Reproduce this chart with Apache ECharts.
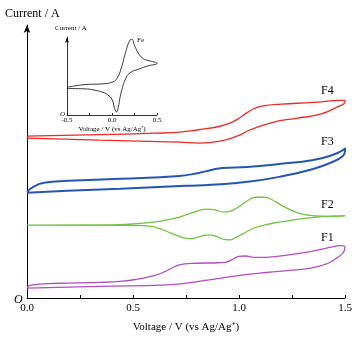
<!DOCTYPE html>
<html>
<head>
<meta charset="utf-8">
<script src="https://cdn.jsdelivr.net/npm/echarts@6/dist/echarts.min.js"></script>
<style>
  html, body { margin: 0; padding: 0; background: #fff; }
  #chart { width: 363px; height: 338px; }
</style>
</head>
<body>
<div id="chart"></div>
<script>
// main panel: voltage (V vs Ag/Ag+) and current (arbitrary, stacked offsets)
const xTicks = [0.0, 0.5, 1.0, 1.5];

const f4Forward = [[0, 161], [0.34, 162.5], [0.6, 164], [0.72, 165], [0.81, 167.5], [0.91, 171], [0.96, 174.5], [1.0, 179], [1.04, 185], [1.08, 189.5], [1.13, 192], [1.2, 193.3], [1.35, 195], [1.48, 197], [1.5, 197]];
const f4Reverse = [[1.5, 196], [1.46, 190], [1.38, 183], [1.27, 179], [1.16, 175], [1.06, 168], [0.99, 161], [0.91, 156], [0.81, 154], [0.72, 155], [0.34, 157], [0, 159]];

const f3Forward = [[0, 105], [0.03, 110], [0.08, 114], [0.19, 116], [0.44, 118], [0.72, 121], [0.81, 124], [0.87, 127], [0.92, 129], [1.04, 130], [1.19, 133], [1.35, 137], [1.44, 142], [1.49, 147], [1.5, 149]];
const f3Reverse = [[1.5, 146], [1.49, 141], [1.44, 135], [1.35, 128], [1.19, 120], [1.04, 115], [0.87, 112], [0.75, 111], [0.44, 108], [0.19, 106], [0, 104]];

const f2Forward = [[0, 71.5], [0.3, 71.7], [0.44, 72], [0.55, 73.5], [0.63, 75.5], [0.7, 78.5], [0.76, 82.5], [0.81, 86], [0.85, 87.5], [0.89, 86.5], [0.93, 84.5], [0.96, 85.5], [1.0, 90], [1.04, 96], [1.08, 99.5], [1.12, 99.5], [1.16, 96.5], [1.2, 91.5], [1.25, 86], [1.3, 82.5], [1.36, 80.8], [1.42, 80.3], [1.49, 80.5], [1.5, 81]];
const f2Reverse = [[1.5, 81], [1.45, 80.6], [1.38, 79.7], [1.3, 78], [1.23, 75.7], [1.17, 73.8], [1.12, 71.5], [1.07, 68.5], [1.03, 64], [0.99, 59.5], [0.955, 56.5], [0.93, 57], [0.9, 59.5], [0.86, 61.5], [0.83, 60.8], [0.8, 59], [0.77, 57.8], [0.74, 58.5], [0.7, 61.5], [0.66, 65], [0.61, 69], [0.55, 71], [0.44, 71.3], [0, 71.5]];

const f1Forward = [[0, 9], [0.02, 11], [0.1, 12.5], [0.19, 13], [0.34, 13.7], [0.45, 15], [0.52, 17], [0.6, 20.5], [0.65, 24.5], [0.69, 29], [0.73, 31.8], [0.8, 33], [0.9, 33.5], [0.94, 34.2], [0.97, 37], [1.0, 40], [1.03, 40.3], [1.07, 38.9], [1.13, 39], [1.21, 40.7], [1.3, 43.5], [1.37, 46.3], [1.44, 49.5], [1.48, 50.7], [1.5, 49]];
const f1Reverse = [[1.5, 49], [1.46, 38], [1.37, 29.7], [1.25, 26], [1.13, 23.7], [0.97, 19.7], [0.81, 14.7], [0.66, 11.3], [0.34, 9.7], [0, 8]];

// inset: ferrocene reference
const insetTicks = [-0.5, 0.0, 0.5];
const feForward = [[-0.5, 35.5], [-0.3, 39], [-0.1, 40], [0.0, 42], [0.05, 46], [0.1, 59], [0.15, 80], [0.2, 96], [0.22, 97], [0.25, 89], [0.3, 78], [0.35, 72], [0.4, 70], [0.5, 66]];
const feReverse = [[0.5, 66], [0.4, 63], [0.3, 59], [0.2, 54], [0.15, 46], [0.1, 28], [0.07, 10.5], [0.05, 4], [0.03, 8], [0.0, 20], [-0.05, 26], [-0.1, 29], [-0.2, 32], [-0.3, 33.5], [-0.5, 34]];

const serif = "Liberation Serif";

function loop(name, fwd, rev, color, width, axis) {
    return {
        name: name,
        type: "line",
        xAxisIndex: axis,
        yAxisIndex: axis,
        data: fwd.concat(rev),
        smooth: 0.5,
        showSymbol: false,
        silent: true,
        lineStyle: { color: color, width: width },
        z: 3,
    };
}

const chart = echarts.init(document.getElementById("chart"));

chart.setOption({
    animation: false,
    grid: [
        { left: 27, right: 18, top: 25, bottom: 38 },
        { left: 67, right: 206, top: 37, bottom: 223 },
    ],
    xAxis: [
        {
            type: "value",
            gridIndex: 0,
            min: 0,
            max: 1.5,
            interval: 0.25,
            axisLine: { onZero: false, lineStyle: { color: "#000", width: 1 } },
            axisTick: { inside: true, length: 3, lineStyle: { color: "#000" } },
            splitLine: { show: false },
            axisLabel: {
                color: "#000",
                fontFamily: serif,
                fontSize: 11,
                margin: 5,
                formatter: (v) => (xTicks.includes(v) ? v.toFixed(1) : ""),
            },
            name: "Voltage / V (vs Ag/Ag\u207A)",
            nameLocation: "middle",
            nameGap: 24,
            nameTextStyle: { color: "#000", fontFamily: serif, fontSize: 11 },
        },
        {
            type: "value",
            gridIndex: 1,
            min: -0.5,
            max: 0.5,
            interval: 0.25,
            axisLine: { onZero: false, lineStyle: { color: "#000", width: 0.8 } },
            axisTick: { inside: true, length: 2, lineStyle: { color: "#000", width: 0.8 } },
            splitLine: { show: false },
            axisLabel: {
                color: "#000",
                fontFamily: serif,
                fontSize: 7,
                margin: 2,
                formatter: (v) => (insetTicks.includes(v) ? v.toFixed(1) : ""),
            },
            name: "Voltage / V (vs Ag/Ag\u207A)",
            nameLocation: "middle",
            nameGap: 11,
            nameTextStyle: { color: "#000", fontFamily: serif, fontSize: 7 },
        },
    ],
    yAxis: [
        {
            type: "value",
            gridIndex: 0,
            min: -2,
            max: 273,
            axisLine: {
                show: true,
                onZero: false,
                symbol: ["none", "arrow"],
                symbolSize: [5, 8],
                lineStyle: { color: "#000", width: 1 },
            },
            axisTick: { show: false },
            axisLabel: { show: false },
            splitLine: { show: false },
        },
        {
            type: "value",
            gridIndex: 1,
            min: 0,
            max: 100,
            axisLine: {
                show: true,
                onZero: false,
                symbol: ["none", "arrow"],
                symbolSize: [3, 6],
                lineStyle: { color: "#000", width: 0.8 },
            },
            axisTick: { show: false },
            axisLabel: { show: false },
            splitLine: { show: false },
        },
    ],
    graphic: [
        { type: "text", left: 5, top: 8, style: { text: "Current / A", font: "12px " + serif, fill: "#000" } },
        { type: "text", left: 14, top: 294, style: { text: "O", font: "italic 12px " + serif, fill: "#000" } },
        { type: "text", left: 55, top: 25, style: { text: "Current / A", font: "7px " + serif, fill: "#000" } },
        { type: "text", left: 60, top: 111, style: { text: "O", font: "italic 7px " + serif, fill: "#000" } },
        { type: "text", left: 137, top: 37, style: { text: "Fe", font: "7px " + serif, fill: "#000" } },
        { type: "text", left: 321, top: 85, style: { text: "F4", font: "12px " + serif, fill: "#000" } },
        { type: "text", left: 321, top: 136, style: { text: "F3", font: "12px " + serif, fill: "#000" } },
        { type: "text", left: 321, top: 199, style: { text: "F2", font: "12px " + serif, fill: "#000" } },
        { type: "text", left: 321, top: 232, style: { text: "F1", font: "12px " + serif, fill: "#000" } },
    ],
    series: [
        loop("F4", f4Forward, f4Reverse, "#ee2a24", 1.3, 0),
        loop("F3", f3Forward, f3Reverse, "#2656b4", 2, 0),
        loop("F2", f2Forward, f2Reverse, "#72c443", 1.3, 0),
        loop("F1", f1Forward, f1Reverse, "#b14fc0", 1.3, 0),
        loop("Fe", feForward, feReverse, "#222", 0.9, 1),
    ],
});
</script>
</body>
</html>
